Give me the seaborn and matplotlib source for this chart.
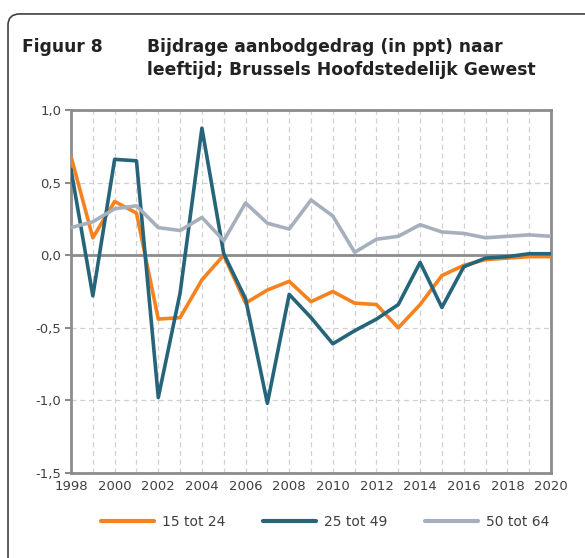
import pandas as pd
import numpy as np
import matplotlib.pyplot as plt
import seaborn as sns
from matplotlib.patches import FancyBboxPatch

# Gegevens
jaren = list(range(1998, 2021))
leeftijd_15_24 = [0.68, 0.12, 0.37, 0.29, -0.44, -0.43, -0.17, 0.00, -0.33, -0.24, -0.18, -0.32,
                  -0.25, -0.33, -0.34, -0.50, -0.34, -0.14, -0.07, -0.03, -0.02, -0.01, -0.01]
leeftijd_25_49 = [0.59, -0.28, 0.66, 0.65, -0.98, -0.26, 0.875, 0.01, -0.30, -1.02, -0.27, -0.43,
                  -0.61, -0.52, -0.44, -0.34, -0.05, -0.36, -0.08, -0.02, -0.01, 0.01, 0.01]
leeftijd_50_64 = [0.19, 0.23, 0.32, 0.34, 0.19, 0.17, 0.26, 0.10, 0.36, 0.22, 0.18, 0.38,
                  0.27, 0.02, 0.11, 0.13, 0.21, 0.16, 0.15, 0.12, 0.13, 0.14, 0.13]
reeksen = ["15 tot 24", "25 tot 49", "50 tot 64"]
kleuren = ["#F5821F", "#26647A", "#A6B0BC"]

df = pd.DataFrame({
    "Jaar": jaren * 3,
    "Waarde": leeftijd_15_24 + leeftijd_25_49 + leeftijd_50_64,
    "Leeftijd": [r for r in reeksen for _ in jaren],
})

sns.set_theme(style="white")
plt.rcParams['font.family'] = ['DejaVu Sans']

fig = plt.figure(figsize=(5.85, 5.58), dpi=100)
ax = fig.add_axes([0.1214, 0.1523, 0.8205, 0.6506])

# Kader rond de figuur
fig.patches.append(FancyBboxPatch((0.0137, -0.1), 1.1, 1.075, boxstyle="round,pad=0,rounding_size=0.02",
                                  transform=fig.transFigure, facecolor="none",
                                  edgecolor="#404040", linewidth=1.2))

grijs = "#8C8C8C"
tekst = "#404040"
ax.set_xticks(jaren, minor=True)
ax.set_xticks(range(1998, 2021, 2))
ax.set_yticks(np.arange(-1.5, 1.01, 0.5))
ax.grid(True, which="both", axis="x", color="#D0D0D0", linestyle=(0, (4, 3)), linewidth=0.9)
ax.grid(True, which="major", axis="y", color="#D0D0D0", linestyle=(0, (4, 3)), linewidth=0.9)
ax.set_axisbelow(True)
ax.axhline(0, color=grijs, linewidth=2, zorder=2)

sns.lineplot(data=df, x="Jaar", y="Waarde", hue="Leeftijd", palette=kleuren,
             linewidth=2.6, ax=ax, legend=False, zorder=3)

ax.set_xlim(1998, 2020)
ax.set_ylim(-1.5, 1.0)
ax.set_yticklabels([f"{v:.1f}".replace(".", ",") for v in np.arange(-1.5, 1.01, 0.5)])
for s in ax.spines.values():
    s.set_color(grijs)
    s.set_linewidth(2)
ax.tick_params(axis="y", which="major", direction="out", length=4, width=1.5, color=grijs,
               labelsize=9.5, labelcolor=tekst, pad=3, left=True)
ax.tick_params(axis="x", which="both", length=0, labelsize=9.5, labelcolor=tekst, pad=5)
ax.set_xlabel("")
ax.set_ylabel("")

# Titel
titel_kw = dict(fontsize=12.3, fontweight="bold", color="#222222", va="center", ha="left")
fig.text(22 / 585, 1 - 47 / 558, "Figuur 8", **titel_kw)
fig.text(147 / 585, 1 - 47 / 558, "Bijdrage aanbodgedrag (in ppt) naar", **titel_kw)
fig.text(147 / 585, 1 - 70 / 558, "leeftijd; Brussels Hoofdstedelijk Gewest", **titel_kw)

# Legende
handles = [plt.Line2D([], [], color=k, linewidth=3, solid_capstyle="round") for k in kleuren]
fig.legend(handles, reeksen, loc="center", bbox_to_anchor=(0.556, 1 - 522 / 558), ncol=3,
           frameon=False, fontsize=10, handlelength=3.8, columnspacing=2.7, handletextpad=0.58,
           labelcolor=tekst)

fig.savefig("out.png", dpi=100)
